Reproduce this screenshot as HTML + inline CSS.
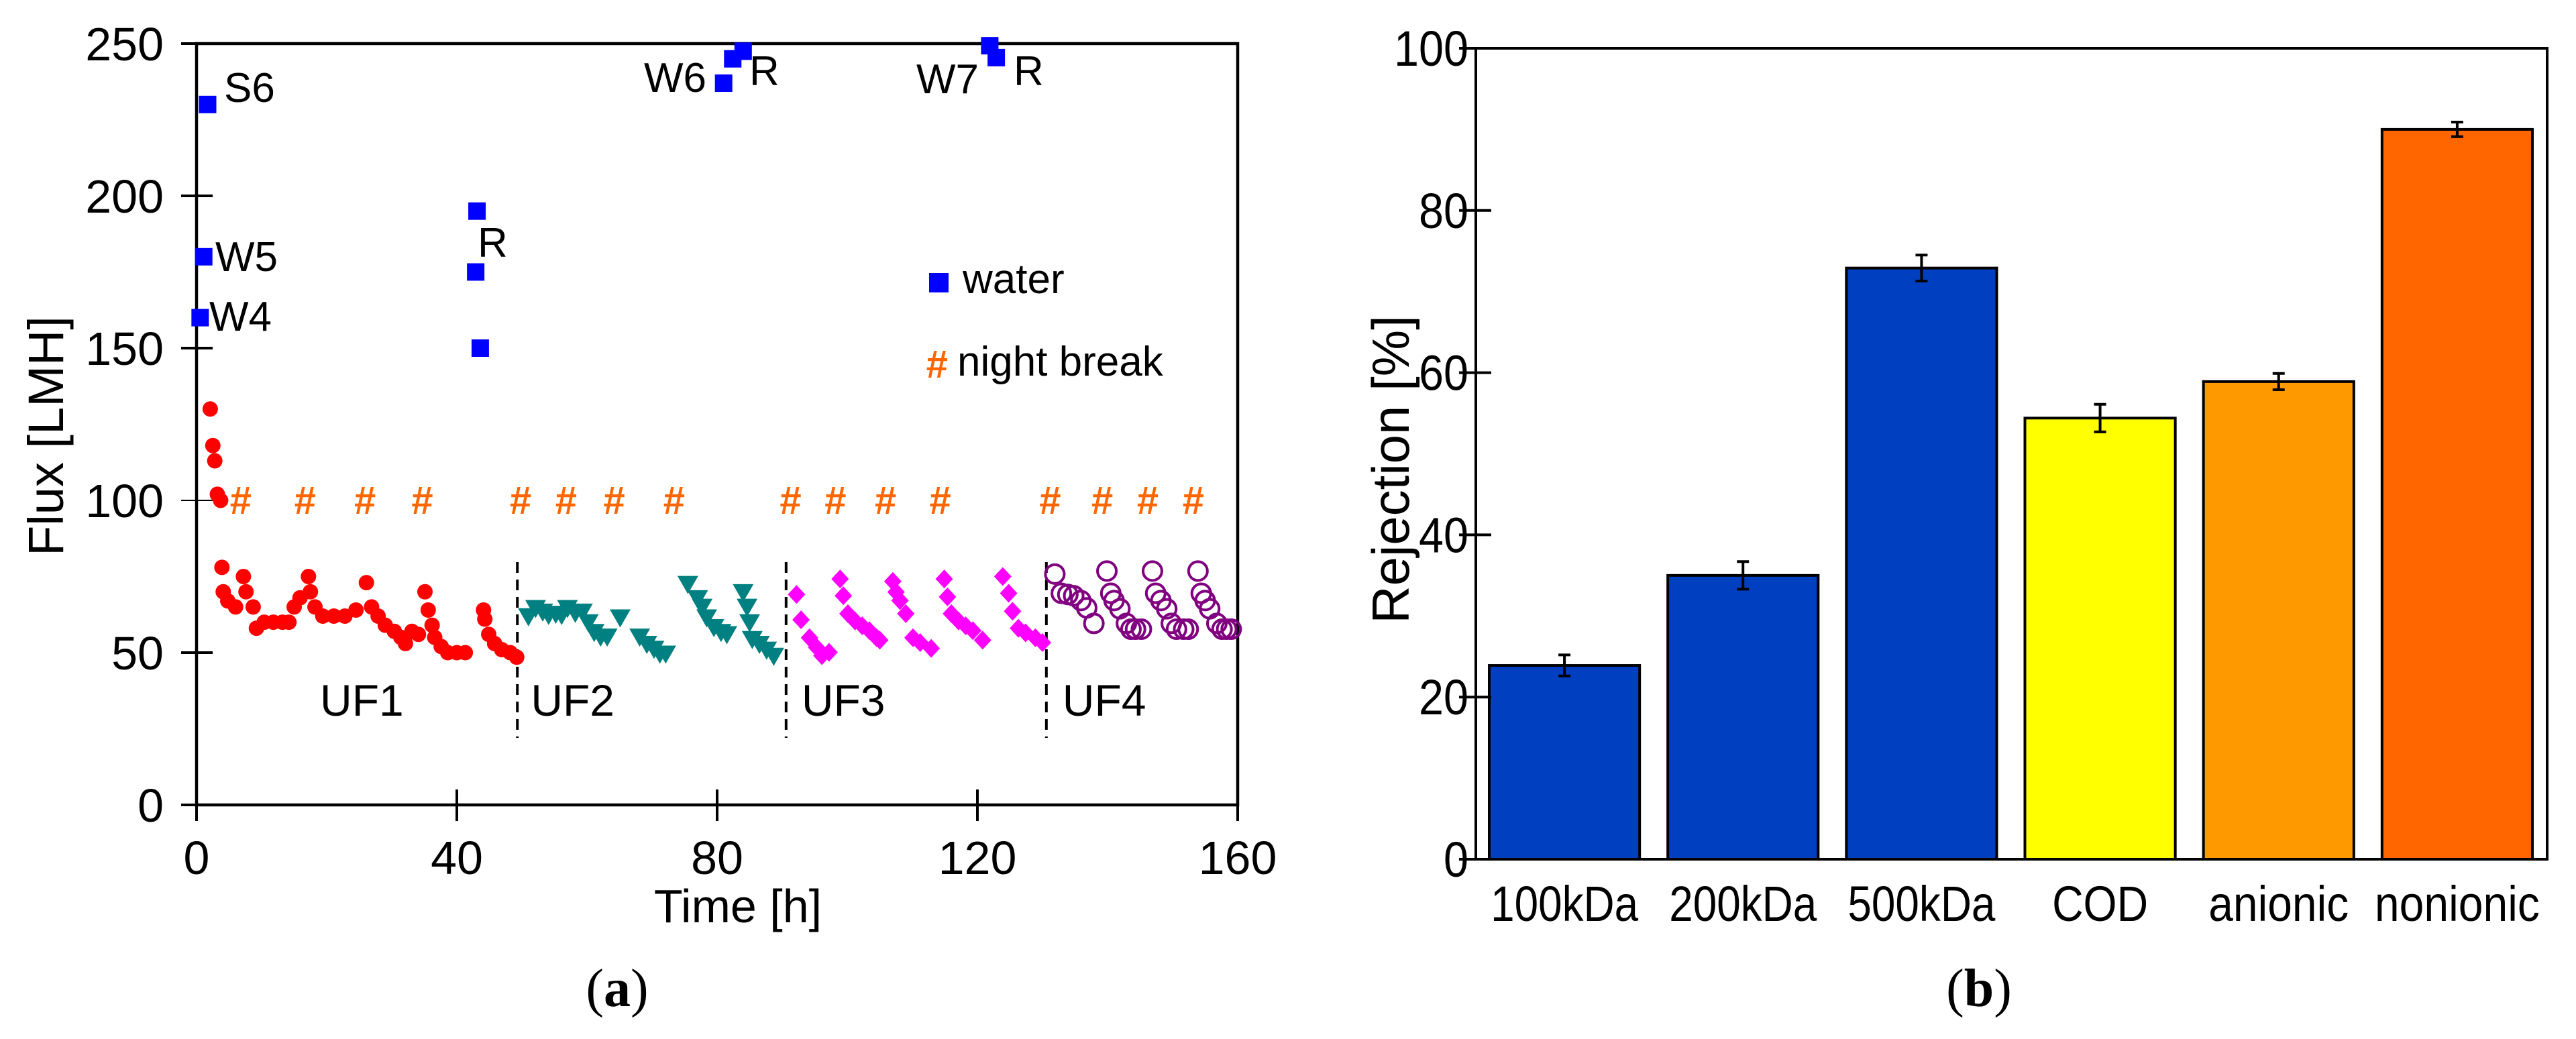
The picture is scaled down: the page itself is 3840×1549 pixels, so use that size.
<!DOCTYPE html>
<html><head><meta charset="utf-8"><style>
html,body{margin:0;padding:0;background:#fff;}
svg{display:block;font-family:"Liberation Sans",Arial,sans-serif;}
</style></head><body>
<svg id="fig" width="3840" height="1549" viewBox="0 0 3840 1549" xmlns="http://www.w3.org/2000/svg">
<rect width="3840" height="1549" fill="#fff"/>
<g id="chartA"></g>
<g id="chartB"></g>
</svg>
<script>
// ---------- Chart (a) data ----------
const xTicksA = [0, 40, 80, 120, 160];
const yTicksA = [0, 50, 100, 150, 200, 250];
const uf1T = [2.1,2.5,2.8,3.2,3.7,3.9,4.1,4.8,6.0,7.2,7.6,8.7,9.2,10.4,11.8,13.2,14.2,15.0,15.9,17.2,17.5,18.2,19.4,21.1,22.8,24.5,26.1,26.9,27.9,29.0,30.4,31.4,32.1,33.1,34.1,35.1,35.6,36.2,36.6,37.6,38.6,40.0,41.3,44.1,44.3,44.9,45.8,46.9,48.2,49.2];
const uf1V = [130,118,113,102,100,78,70,67,65,75,70,65,58,60,60,60,60,65,68,75,70,65,62,62,62,64,73,65,62,59,57,55,53,57,56,70,64,59,55,52,50,50,50,64,61,56,53,51,50,48.5];
const uf2T = [51.0,52.1,53.2,54.1,55.2,56.1,57.0,58.2,59.3,60.2,61.1,62.1,63.1,65.1,68.1,69.2,70.3,71.2,72.1,75.5,77.0,77.7,78.4,79.5,80.6,81.5,84.0,84.6,85.0,85.4,86.5,87.6,88.7];
const uf2V = [62.4,65.1,63.9,62.8,63.2,62.8,65.1,63.5,63.9,60.4,57.2,55.7,55.7,62.0,55.7,53.3,51.7,50.1,50.1,73.0,68.3,65.5,62.0,58.8,57.2,56.5,70.3,65.5,60.4,54.9,53.3,51.4,49.4];
const uf3T = [92.2,92.9,94.2,95.3,96.1,97.2,98.9,99.4,100.1,101.2,102.3,103.4,104.5,105.0,107.0,107.5,108.1,109.0,110.1,111.2,112.9,114.9,115.4,116.0,117.1,118.2,119.3,120.8,123.9,124.8,125.4,126.3,127.4,128.9,130.0];
const uf3V = [69.1,60.8,54.9,51.7,49.0,50.1,74.2,68.7,62.8,60.4,58.8,57.2,54.9,54.1,73.4,69.9,67.1,62.8,54.9,53.3,51.4,74.2,68.3,62.8,60.4,58.8,57.2,54.1,75.0,69.5,63.6,58.0,56.5,54.9,53.3];
const uf4T = [131.9,132.9,133.9,134.8,135.9,136.8,137.9,139.9,140.5,141.0,141.9,142.9,143.6,144.3,145.2,146.9,147.4,148.2,149.1,149.8,150.6,151.7,152.4,153.9,154.4,155.0,155.7,156.8,157.6,158.3,159.0];
const uf4V = [75.8,69.5,69.1,68.7,67.1,64.7,59.6,76.8,69.5,67.1,64.4,59.6,57.7,57.7,57.7,76.8,69.5,67.1,64.4,59.6,57.7,57.7,57.7,76.8,69.5,67.1,64.4,59.6,57.7,57.7,57.7];
const waterT = [1.7,1.1,0.55,43.1,42.9,43.6,81.0,82.4,84.0,121.9,122.9];
const waterV = [230,180,160,195,175,150,237,245,247.5,249.3,245.4];
const breakT = [6.7,16.6,25.8,34.6,49.7,56.7,64.1,73.3,91.2,98.1,105.8,114.2,131.1,139.1,146.1,153.1];
const breakV = [100,100,100,100,100,100,100,100,100,100,100,100,100,100,100,100];
const dividerT = [49.3,90.6,130.6];
const stageLabels = ["UF1","UF2","UF3","UF4"];
const stageCenterT = [25.4,57.8,99.4,139.5];

// ---------- Chart (b) data ----------
const categoriesB = ["100kDa","200kDa","500kDa","COD","anionic","nonionic"];
const valuesB = [23.9,35.0,72.9,54.4,58.9,90.0];
const errorsB = [1.3,1.7,1.6,1.7,1.0,0.9];
const colorsB = ["#0040C0","#0040C0","#0040C0","#FFFF00","#FF9900","#FF6600"];
const yTicksB = [0,20,40,60,80,100];
const labelWidthsB = [220,220,220,143,209,246];

const NS = "http://www.w3.org/2000/svg";
function mk(parent, tag, attrs, text){
  const e = document.createElementNS(NS, tag);
  for (const k in attrs) e.setAttribute(k, attrs[k]);
  if (text !== undefined) e.textContent = text;
  parent.appendChild(e);
  return e;
}

// ---------- Chart (a) ----------
const A = document.getElementById('chartA');
const ax0 = 293, ax1 = 1845, ay0 = 1200, ay1 = 65;
const xA = t => ax0 + (t/160)*(ax1-ax0);
const yA = v => ay0 - (v/250)*(ay0-ay1);

let fr = mk(A,'rect',{x:ax0,y:ay1,width:ax1-ax0,height:ay0-ay1,fill:'none',stroke:'#000','stroke-width':4.5});



yTicksA.forEach(v=>{
  const l = mk(A,'line',{x1:ax0-23,x2:ax0+24,y1:yA(v),y2:yA(v),stroke:'#000','stroke-width':v===100?2:4});
  
  
  const t = mk(A,'text',{x:244,y:yA(v)+25,'text-anchor':'end','font-size':70},String(v));
  
  
});
xTicksA.forEach(v=>{
  const l = mk(A,'line',{x1:xA(v),x2:xA(v),y1:ay0-23,y2:ay0+24,stroke:'#000','stroke-width':4});
  
  
  const t = mk(A,'text',{x:xA(v),y:1303,'text-anchor':'middle','font-size':70},String(v));
  
  
});
let tt = mk(A,'text',{x:1100,y:1375,'text-anchor':'middle','font-size':70},'Time [h]');


let yt = mk(A,'text',{x:0,y:0,'text-anchor':'middle','font-size':74,transform:'translate(94,650) rotate(-90)'},'Flux [LMH]');



dividerT.forEach(t=>{
  const l = mk(A,'line',{x1:xA(t),x2:xA(t),y1:838,y2:1100,stroke:'#000','stroke-width':4,'stroke-dasharray':'16,10'});
  
  
});
stageLabels.forEach((s,i)=>{
  const t = mk(A,'text',{x:xA(stageCenterT[i]),y:1067,'text-anchor':'middle','font-size':66},s);
  
  
});

breakT.forEach((t,i)=>{
  const m = mk(A,'text',{x:xA(t),y:yA(breakV[i])+20,'text-anchor':'middle','font-size':58,'font-weight':'bold','font-style':'italic',fill:'#FF6600'},'#');
  
  
});
uf1T.forEach((t,i)=>{
  const c = mk(A,'circle',{cx:xA(t),cy:yA(uf1V[i]),r:11.5,fill:'#FF0000'});
  
  
});
uf2T.forEach((t,i)=>{
  const x = xA(t), y = yA(uf2V[i]);
  const p = mk(A,'polygon',{points:`${x-15.5},${y-10} ${x+15.5},${y-10} ${x},${y+17}`,fill:'#008080'});
  
  
});
uf3T.forEach((t,i)=>{
  const x = xA(t), y = yA(uf3V[i]);
  const p = mk(A,'polygon',{points:`${x},${y-14} ${x+13},${y} ${x},${y+14} ${x-13},${y}`,fill:'#FF00FF'});
  
  
});
uf4T.forEach((t,i)=>{
  const c = mk(A,'circle',{cx:xA(t),cy:yA(uf4V[i]),r:14,fill:'none',stroke:'#800080','stroke-width':4});
  
  
});
waterT.forEach((t,i)=>{
  const r = mk(A,'rect',{x:xA(t)-13,y:yA(waterV[i])-13,width:26,height:26,fill:'#0000FF'});
  
  
});
[["S6",334,152],["W5",321,404],["W4",312,493],["R",712,383],["W6",1053,137,'end'],["R",1117,127],["W7",1459,139,'end'],["R",1511,127]].forEach(a=>{
  const t = mk(A,'text',{x:a[1],y:a[2],'font-size':62,'text-anchor':a[3]||'start'},a[0]);
  
  
});
let lg = mk(A,'g',{});


let ls = mk(lg,'rect',{x:1385,y:407,width:29,height:29,fill:'#0000FF'});


let lt1 = mk(lg,'text',{x:1435,y:437,'font-size':62},'water');


let lh = mk(lg,'text',{x:1396,y:563,'text-anchor':'middle','font-size':58,'font-weight':'bold','font-style':'italic',fill:'#FF6600'},'#');


let lt2 = mk(lg,'text',{x:1427,y:560,'font-size':62},'night break');



let capA = mk(A,'text',{x:920,y:1500,'text-anchor':'middle','font-size':80,'font-family':'"Liberation Serif",serif'});


capA.innerHTML = '(<tspan font-weight="bold">a</tspan>)';

// ---------- Chart (b) ----------
const B = document.getElementById('chartB');
const bx0 = 2200, bx1 = 3797, by0 = 1281, by1 = 72;
const catW = (bx1-bx0)/categoriesB.length;
const yB = v => by0 - (v/100)*(by0-by1);
const xB = i => bx0 + i*catW;

let frB = mk(B,'polyline',{points:`${bx0},${by1} ${bx1},${by1} ${bx1},${by0}`,fill:'none',stroke:'#000','stroke-width':4});



categoriesB.forEach((c,i)=>{
  const x = xB(i)+20, w = catW-42, top = yB(valuesB[i]);
  const r = mk(B,'rect',{x:x,y:top,width:w,height:by0-top,fill:colorsB[i],stroke:'#000','stroke-width':4});
  
  
  const cx = x + w/2, e1 = yB(valuesB[i]+errorsB[i]), e2 = yB(valuesB[i]-errorsB[i]);
  const eb = mk(B,'path',{d:`M${cx},${e1}V${e2}M${cx-9},${e1}H${cx+9}M${cx-9},${e2}H${cx+9}`,stroke:'#000','stroke-width':4,fill:'none'});
  
  
  const t = mk(B,'text',{x:cx,y:1373,'text-anchor':'middle','font-size':74,textLength:labelWidthsB[i],lengthAdjust:'spacingAndGlyphs'},c);
  
  
});
let axL = mk(B,'line',{x1:bx0,x2:bx0,y1:by1-2,y2:by0,stroke:'#000','stroke-width':4});


let axBt = mk(B,'line',{x1:bx0-25,x2:bx1+2,y1:by0,y2:by0,stroke:'#000','stroke-width':4});


yTicksB.forEach(v=>{
  const l = mk(B,'line',{x1:bx0-25,x2:bx0+23,y1:yB(v),y2:yB(v),stroke:'#000','stroke-width':4});
  
  
  const s = String(v);
  const t = mk(B,'text',{x:2189,y:yB(v)+26,'text-anchor':'end','font-size':74,textLength:s.length*37,lengthAdjust:'spacingAndGlyphs'},s);
  
  
});
let ytB = mk(B,'text',{x:0,y:0,'text-anchor':'middle','font-size':78,transform:'translate(2100,700) rotate(-90)'},'Rejection [%]');


let capB = mk(B,'text',{x:2950,y:1500,'text-anchor':'middle','font-size':80,'font-family':'"Liberation Serif",serif'});


capB.innerHTML = '(<tspan font-weight="bold">b</tspan>)';
</script>
</body></html>
